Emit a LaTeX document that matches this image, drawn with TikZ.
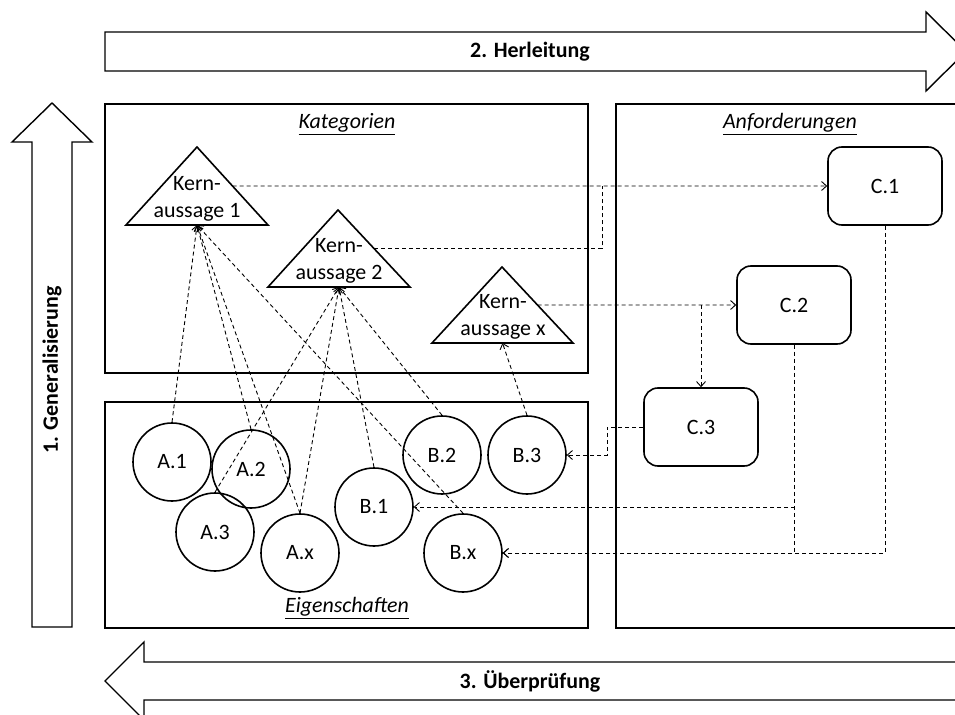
\documentclass[tikz,border=0pt]{standalone}
\usepackage{fontspec}
\setmainfont{Carlito}
\usetikzlibrary{arrows.meta,calc}

\begin{document}
\begin{tikzpicture}[x=1bp,y=-1bp,
  every node/.style={font=\fontsize{22}{27}\selectfont},
  frame/.style={draw, line width=1.6bp, line join=miter},
  bigarrow/.style={draw, line width=1.4bp, fill=white, line join=miter},
  heading/.style={font=\fontsize{22}{27}\selectfont\bfseries},
  boxtitle/.style={font=\fontsize{22}{27}\selectfont\itshape},
  prop/.style={circle, draw, line width=1.6bp, minimum size=78bp, inner sep=0pt},
  req/.style={rectangle, rounded corners=14bp, draw, line width=1.6bp,
              minimum width=114bp, minimum height=78bp, inner sep=0pt},
  plain/.style={draw=black, line width=0.9bp, dash pattern=on 4bp off 3bp},
  link/.style={plain, -{Straight Barb[length=5bp,width=9bp]}}
]
\useasboundingbox (0,0) rectangle (955,715);
\clip (0,0) rectangle (955,715);

% process arrows
\draw[bigarrow] (105,32) -- (926,32) -- (926,12) -- (966,51.5) -- (926,91) -- (926,71) -- (105,71) -- cycle;
\node[heading] (herl) at (530,52) {2. Herleitung};

\draw[bigarrow] (32,627) -- (32,142) -- (12,142) -- (52,103) -- (92,142) -- (72,142) -- (72,627) -- cycle;
\node[heading, rotate=90] (gen) at (52,370) {1. Generalisierung};

\draw[bigarrow] (975,662) -- (144,662) -- (144,642) -- (105,681) -- (144,720) -- (144,700) -- (975,700) -- cycle;
\node[heading] (pruef) at (530,681) {3. Überprüfung};

% frames
\draw[frame] (105,104) rectangle (588,373);
\draw[frame] (616,104) rectangle (964,628);
\draw[frame] (105,402) rectangle (588,628);

\node[boxtitle] (kat) at (347,124) {\underline{Kategorien}};
\node[boxtitle] (anf) at (790,124) {\underline{Anforderungen}};
\node[boxtitle] (eig) at (347,608) {\underline{Eigenschaften}};

% core statements (triangles)
\coordinate (k1a) at (197,147); \coordinate (k1l) at (126,225); \coordinate (k1r) at (268,225);
\coordinate (k2a) at (338,210); \coordinate (k2l) at (268,287); \coordinate (k2r) at (410,287);
\coordinate (kxa) at (502,267); \coordinate (kxl) at (432,343); \coordinate (kxr) at (573,343);
\draw[frame] (k1a) -- (k1r) -- (k1l) -- cycle;
\draw[frame] (k2a) -- (k2r) -- (k2l) -- cycle;
\draw[frame] (kxa) -- (kxr) -- (kxl) -- cycle;
\coordinate (k1b) at ($(k1l)!0.5!(k1r)$);
\coordinate (k2b) at ($(k2l)!0.5!(k2r)$);
\coordinate (kxb) at ($(kxl)!0.5!(kxr)$);
\coordinate (k1e) at ($(k1a)!0.5!(k1r)$);
\coordinate (k2e) at ($(k2a)!0.5!(k2r)$);
\coordinate (kxe) at ($(kxa)!0.5!(kxr)$);
\node[align=center] (k1t) at (197,199) {Kern-\\aussage 1};
\node[align=center] (k2t) at (339,261) {Kern-\\aussage 2};
\node[align=center] (kxt) at (503,317) {Kern-\\aussage x};

% requirements
\node[req] (C1) at (885,186) {C.1};
\node[req] (C2) at (794,305) {C.2};
\node[req] (C3) at (701,427) {C.3};

% properties
\node[prop] (A1) at (172,462) {A.1};
\node[prop] (A2) at (251,469) {A.2};
\node[prop] (A3) at (215,532) {A.3};
\node[prop] (Ax) at (300,553) {A.x};
\node[prop] (B1) at (374,507) {B.1};
\node[prop] (B2) at (442,455) {B.2};
\node[prop] (B3) at (527,455) {B.3};
\node[prop] (Bx) at (463,553) {B.x};

% generalisation links
\draw[link] (A1.north) -- (k1b);
\draw[link] (A2.north) -- (k1b);
\draw[link] (Ax.north) -- (k1b);
\draw[link] (Bx.north) -- (k1b);
\draw[link] (A3.north) -- (k2b);
\draw[link] (Ax.north) -- (k2b);
\draw[link] (B1.north) -- (k2b);
\draw[link] (B2.north) -- (k2b);
\draw[link] (B3.north) -- (kxb);

% derivation links
\coordinate (j1) at (602,186);
\coordinate (j2) at (701,305);
\coordinate (j3) at (607,427);
\draw[link] (k1e) -- (C1.west);
\draw[plain] (k2e) -| (j1);
\draw[link] (kxe) -- (C2.west);
\draw[link] (j2) -- (C3.north);

% verification links
\draw[link] (C3.west) -- (j3) |- (B3.east);
\draw[link] (C2.south) |- (B1.east);
\draw[link] (C2.south) |- (Bx.east);
\draw[link] (C1.south) |- (Bx.east);
\end{tikzpicture}
\end{document}
